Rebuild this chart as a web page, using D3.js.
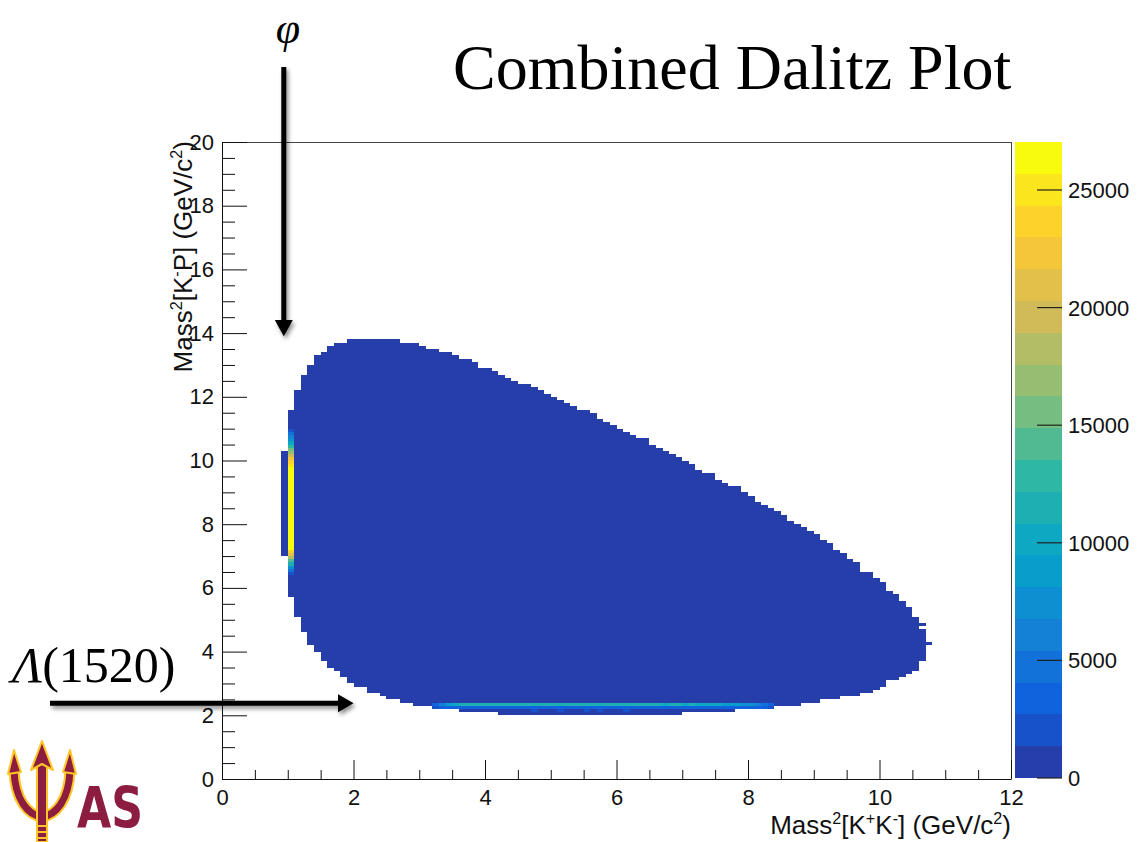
<!DOCTYPE html>
<html>
<head>
<meta charset="utf-8">
<script src="https://cdn.jsdelivr.net/npm/d3@7"></script>
<style>
  html, body { margin: 0; padding: 0; background: #fff; }
  svg { display: block; }
</style>
</head>
<body>
<svg id="chart" width="1139" height="842"></svg>
<script>
// ---------- data ----------
// Phase-space population: for each 0.1 GeV^2 column of M^2(K+K-), the lower edge
// of the column and the lowest / highest filled M^2(K-p) bin edges.
const colX = [
  0.9, 1.0, 1.1, 1.2, 1.3, 1.4, 1.5, 1.6, 1.7, 1.8,
  1.9, 2.0, 2.1, 2.2, 2.3, 2.4, 2.5, 2.6, 2.7, 2.8,
  2.9, 3.0, 3.1, 3.2, 3.3, 3.4, 3.5, 3.6, 3.7, 3.8,
  3.9, 4.0, 4.1, 4.2, 4.3, 4.4, 4.5, 4.6, 4.7, 4.8,
  4.9, 5.0, 5.1, 5.2, 5.3, 5.4, 5.5, 5.6, 5.7, 5.8,
  5.9, 6.0, 6.1, 6.2, 6.3, 6.4, 6.5, 6.6, 6.7, 6.8,
  6.9, 7.0, 7.1, 7.2, 7.3, 7.4, 7.5, 7.6, 7.7, 7.8,
  7.9, 8.0, 8.1, 8.2, 8.3, 8.4, 8.5, 8.6, 8.7, 8.8,
  8.9, 9.0, 9.1, 9.2, 9.3, 9.4, 9.5, 9.6, 9.7, 9.8,
  9.9, 10.0, 10.1, 10.2, 10.3, 10.4, 10.5, 10.6
];
const colTop = [
  10.3, 11.6, 12.2, 12.7, 13.0, 13.3, 13.4, 13.6, 13.7, 13.7,
  13.8, 13.8, 13.8, 13.8, 13.8, 13.8, 13.8, 13.8, 13.7, 13.7,
  13.7, 13.6, 13.5, 13.5, 13.4, 13.4, 13.3, 13.2, 13.2, 13.1,
  12.9, 12.9, 12.8, 12.7, 12.6, 12.5, 12.4, 12.4, 12.3, 12.2,
  12.1, 12.0, 11.9, 11.8, 11.7, 11.6, 11.6, 11.5, 11.3, 11.2,
  11.1, 11.0, 10.9, 10.8, 10.7, 10.7, 10.5, 10.4, 10.3, 10.2,
  10.1, 10.0, 9.9, 9.7, 9.6, 9.6, 9.4, 9.3, 9.2, 9.2,
  9.0, 8.9, 8.7, 8.6, 8.5, 8.4, 8.3, 8.1, 8.0, 7.9,
  7.8, 7.7, 7.5, 7.4, 7.2, 7.1, 6.9, 6.8, 6.5, 6.5,
  6.3, 6.2, 5.9, 5.8, 5.6, 5.4, 5.1, 4.7
];
const colBottom = [
  7.0, 5.7, 5.1, 4.6, 4.2, 4.0, 3.7, 3.5, 3.4, 3.2,
  3.0, 2.9, 2.9, 2.7, 2.7, 2.6, 2.5, 2.5, 2.4, 2.4,
  2.3, 2.3, 2.3, 2.2, 2.2, 2.2, 2.2, 2.1, 2.1, 2.1,
  2.1, 2.1, 2.1, 2.0, 2.0, 2.0, 2.0, 2.0, 2.0, 2.0,
  2.0, 2.0, 2.0, 2.0, 2.0, 2.0, 2.0, 2.0, 2.0, 2.0,
  2.0, 2.0, 2.0, 2.0, 2.0, 2.0, 2.0, 2.0, 2.0, 2.0,
  2.0, 2.1, 2.1, 2.1, 2.1, 2.1, 2.1, 2.1, 2.1, 2.2,
  2.2, 2.2, 2.2, 2.2, 2.2, 2.3, 2.3, 2.3, 2.3, 2.4,
  2.4, 2.4, 2.5, 2.5, 2.5, 2.6, 2.6, 2.6, 2.7, 2.7,
  2.8, 2.9, 3.1, 3.1, 3.2, 3.3, 3.4, 3.7
];
// typical entries per bin across the smooth phase space (lowest contour band)
const baseCount = 500;

// isolated bins at the far edge
const strayX = [10.6, 10.7];
const strayY = [4.8, 4.2];
const strayCounts = [400, 400];

// phi(1020) band: the single M^2(K+K-) column 1.0-1.1
const phiX = 1.0;
const phiY = [
  6.4, 6.5, 6.6, 6.7, 6.8, 6.9, 7.0, 7.1, 7.2, 7.3,
  7.4, 7.5, 7.6, 7.7, 7.8, 7.9, 8.0, 8.1, 8.2, 8.3,
  8.4, 8.5, 8.6, 8.7, 8.8, 8.9, 9.0, 9.1, 9.2, 9.3,
  9.4, 9.5, 9.6, 9.7, 9.8, 9.9, 10.0, 10.1, 10.2, 10.3,
  10.4, 10.5, 10.6, 10.7, 10.8, 10.9
];
const phiCounts = [
  2500, 4500, 7500, 11000, 14500, 18500, 21500, 24000, 26100, 26400,
  26600, 26800, 26900, 27040, 26950, 26800, 26700, 26900, 26850, 26600,
  26700, 26500, 26800, 26900, 26700, 26600, 26400, 26500, 26300, 26200,
  26100, 26000, 25900, 25800, 25200, 24000, 22500, 20000, 17500, 15000,
  12500, 10000, 8000, 6000, 4200, 2500
];

// Lambda(1520) band along M^2(K-p) ~ 2.2-2.4
const lambdaX = [
  3.2, 3.3, 3.4, 3.5, 3.6, 3.7, 3.8, 3.9, 4.0, 4.1,
  4.2, 4.3, 4.4, 4.5, 4.6, 4.7, 4.8, 4.9, 5.0, 5.1,
  5.2, 5.3, 5.4, 5.5, 5.6, 5.7, 5.8, 5.9, 6.0, 6.1,
  6.2, 6.3, 6.4, 6.5, 6.6, 6.7, 6.8, 6.9, 7.0, 7.1,
  7.2, 7.3, 7.4, 7.5, 7.6, 7.7, 7.8, 7.9, 8.0, 8.1,
  8.2, 8.3
];
const lambdaRowY = [2.3, 2.2];
const lambdaRow23 = [
  3500, 6000, 8500, 10200, 11000, 11300, 11100, 11500, 11200, 11600,
  11400, 11100, 11500, 11300, 11000, 11400, 11200, 11500, 11100, 11300,
  11400, 11000, 11200, 11500, 11100, 11300, 11200, 11000, 11400, 11100,
  11300, 10900, 11200, 11000, 11300, 10800, 11100, 10900, 10700, 11000,
  10600, 10400, 10200, 9500, 9000, 8700, 8400, 8000, 7200, 6000,
  4500, 3000
];
const lambdaRow22 = [
  2200, 3200, 3400, 3600, 3500, 3700, 3600, 3800, 3500, 3700,
  3600, 3900, 3500, 3700, 3600, 3800, 3500, 3600, 3700, 3900,
  3500, 3600, 3800, 3700, 3500, 3600, 3700, 3500, 3800, 3600,
  3500, 3700, 3600, 3500, 3700, 3400, 3600, 3500, 3400, 3600,
  3300, 3500, 3400, 3300, 3200, 3300, 3100, 3200, 3000, 2900,
  2800, 2200
];
// a few brighter bins just under the band
const spotX = [4.7, 5.1, 5.5, 5.7, 6.1];
const spotY = [2.1, 2.1, 2.1, 2.1, 2.1];
const spotCounts = [2000, 1900, 2100, 2000, 1900];

// axis ticks
const xMajor = [0, 2, 4, 6, 8, 10, 12];
const yMajor = [0, 2, 4, 6, 8, 10, 12, 14, 16, 18, 20];
const zTicks = [0, 5000, 10000, 15000, 20000, 25000];
const nContours = 20;
const binW = 0.1, binH = 0.1;

// ROOT "bird" palette stops
const birdStops = [0, 0.125, 0.25, 0.375, 0.5, 0.625, 0.75, 0.875, 1];
const birdColors = ["#352a87", "#0f5cdd", "#1481d6", "#06a4ca", "#2eb7a4",
                    "#87bf77", "#d1bb59", "#fec832", "#f9fb0e"];

[[colX, colTop], [colX, colBottom], [phiY, phiCounts],
 [lambdaX, lambdaRow23], [lambdaX, lambdaRow22]].forEach(([a, b]) => {
  if (a.length !== b.length) throw new Error("array length mismatch " + a.length + " vs " + b.length);
});

// ---------- scales ----------
const svg = d3.select("#chart");
const sansFont = "'Liberation Sans', Arial, Helvetica, sans-serif";
const serifFont = "'Liberation Serif', 'Times New Roman', Times, serif";

const x = d3.scaleLinear().domain([0, 12]).range([222, 1011]);
const y = d3.scaleLinear().domain([0, 20]).range([779, 142]);
const zMax = d3.max(phiCounts);
const z = d3.scaleLinear().domain([0, zMax]).range([778, 142]);
const palette = d3.scaleLinear().domain(birdStops).range(birdColors).interpolate(d3.interpolateRgb);
const levelOf = c => Math.min(nContours - 1, Math.floor(c / zMax * nContours));
const levelColor = i => palette((i + 0.99) / nContours);
const colorOf = c => levelColor(levelOf(c));

// ---------- histogram cells ----------
const cells = svg.append("g").attr("shape-rendering", "crispEdges");
function cell(x0, y0, x1, y1, fill) {
  const l = Math.round(x(x0)), r = Math.round(x(x1));
  const t = Math.round(y(y1)), b = Math.round(y(y0));
  cells.append("rect").attr("x", l).attr("y", t)
    .attr("width", r - l).attr("height", b - t).attr("fill", fill);
}
colX.forEach((cx, i) => cell(cx, colBottom[i], cx + binW, colTop[i], colorOf(baseCount)));
strayX.forEach((sx, i) => cell(sx, strayY[i], sx + binW, strayY[i] + binH, colorOf(strayCounts[i])));
phiY.forEach((py, i) => cell(phiX, py, phiX + binW, py + binH, colorOf(phiCounts[i])));
[lambdaRow23, lambdaRow22].forEach((row, r) => {
  row.forEach((c, i) => cell(lambdaX[i], lambdaRowY[r], lambdaX[i] + binW, lambdaRowY[r] + binH, colorOf(c)));
});
spotX.forEach((sx, i) => cell(sx, spotY[i], sx + binW, spotY[i] + binH, colorOf(spotCounts[i])));

// ---------- frame and axes ----------
svg.append("line").attr("x1", x(0)).attr("x2", x(12)).attr("y1", y(20) + 0.5).attr("y2", y(20) + 0.5)
  .attr("stroke", "#444").attr("stroke-width", 1);
svg.append("line").attr("x1", x(12) + 0.5).attr("x2", x(12) + 0.5).attr("y1", y(0)).attr("y2", y(20))
  .attr("stroke", "#444").attr("stroke-width", 1);

const xMinor = d3.range(0, 12.001, 0.5).filter(v => !xMajor.includes(v));
const yMinor = d3.range(0, 20.001, 0.5).filter(v => !yMajor.includes(v));

function styleAxis(g) {
  g.attr("font-family", sansFont).attr("font-size", 22);
  g.selectAll("line").attr("stroke", "#111");
  g.select(".domain").attr("stroke", "#111");
  g.selectAll("text").attr("fill", "#111");
}
const gx = svg.append("g").attr("transform", `translate(0,${y(0)})`)
  .call(d3.axisBottom(x).tickValues(xMajor).tickSize(-19).tickSizeOuter(0).tickPadding(10).tickFormat(d3.format("d")));
styleAxis(gx);
const gxm = svg.append("g").attr("transform", `translate(0,${y(0)})`)
  .call(d3.axisBottom(x).tickValues(xMinor).tickSize(-9).tickFormat(() => ""));
gxm.select(".domain").remove(); gxm.selectAll("line").attr("stroke", "#111");

const gy = svg.append("g").attr("transform", `translate(${x(0)},0)`)
  .call(d3.axisLeft(y).tickValues(yMajor).tickSize(-25).tickSizeOuter(0).tickPadding(8).tickFormat(d3.format("d")));
styleAxis(gy);
const gym = svg.append("g").attr("transform", `translate(${x(0)},0)`)
  .call(d3.axisLeft(y).tickValues(yMinor).tickSize(-13).tickFormat(() => ""));
gym.select(".domain").remove(); gym.selectAll("line").attr("stroke", "#111");

// axis titles with superscripts
function richText(sel, parts, size) {
  parts.forEach(p => {
    const t = sel.append("tspan").text(p.t);
    if (p.sup) t.attr("font-size", size * 0.62).attr("dy", -size * 0.38);
    else if (p.after) t.attr("dy", size * 0.38);
  });
}
const xTitle = svg.append("text").attr("x", x(12)).attr("y", 834)
  .attr("text-anchor", "end").attr("font-family", sansFont).attr("font-size", 26).attr("fill", "#111");
richText(xTitle, [
  { t: "Mass" }, { t: "2", sup: true }, { t: "[K", after: true }, { t: "+", sup: true },
  { t: "K", after: true }, { t: "-", sup: true }, { t: "] (GeV/c", after: true },
  { t: "2", sup: true }, { t: ")", after: true }
], 26);

const yTitle = svg.append("text").attr("transform", `translate(192,${y(20) - 1}) rotate(-90)`)
  .attr("text-anchor", "end").attr("font-family", sansFont).attr("font-size", 26).attr("fill", "#111");
richText(yTitle, [
  { t: "Mass" }, { t: "2", sup: true }, { t: "[K", after: true }, { t: "-", sup: true },
  { t: "P] (GeV/c", after: true }, { t: "2", sup: true }, { t: ")", after: true }
], 26);

// ---------- colour scale ----------
const bar = svg.append("g").attr("shape-rendering", "crispEdges");
d3.range(nContours).forEach(i => {
  const t = Math.round(z((i + 1) * zMax / nContours)), b = Math.round(z(i * zMax / nContours));
  bar.append("rect").attr("x", 1015).attr("y", t).attr("width", 47).attr("height", b - t)
    .attr("fill", levelColor(i));
});
const zAxis = svg.append("g");
zTicks.forEach(v => {
  zAxis.append("line").attr("x1", 1037).attr("x2", 1062).attr("y1", z(v)).attr("y2", z(v))
    .attr("stroke", "#222").attr("stroke-width", 1.2);
  zAxis.append("text").attr("x", 1068).attr("y", z(v)).attr("dy", "0.36em")
    .attr("font-family", sansFont).attr("font-size", 22).attr("fill", "#111").text(v);
});

// ---------- title and annotations ----------
svg.append("text").attr("x", 453).attr("y", 89)
  .attr("font-family", serifFont).attr("font-size", 64).attr("fill", "#000")
  .text("Combined Dalitz Plot");

const defs = svg.append("defs");
const shadow = defs.append("filter").attr("id", "arrowShadow")
  .attr("x", "-20%").attr("y", "-20%").attr("width", "140%").attr("height", "140%");
shadow.append("feDropShadow").attr("dx", 2).attr("dy", 3).attr("stdDeviation", 2)
  .attr("flood-color", "#000").attr("flood-opacity", 0.45);

const arrows = svg.append("g").attr("filter", "url(#arrowShadow)");
// phi arrow (vertical, pointing down at the phi band)
const phiAX = x(0.94);
arrows.append("line").attr("x1", phiAX).attr("x2", phiAX).attr("y1", 67).attr("y2", 324)
  .attr("stroke", "#000").attr("stroke-width", 5);
arrows.append("path")
  .attr("d", `M${phiAX - 9},320 L${phiAX + 9},320 L${phiAX},${y(13.9)} Z`).attr("fill", "#000");
// Lambda(1520) arrow (horizontal, pointing right at the band)
const lamAY = y(2.38);
arrows.append("line").attr("x1", 50).attr("x2", 342).attr("y1", lamAY).attr("y2", lamAY)
  .attr("stroke", "#000").attr("stroke-width", 5);
arrows.append("path")
  .attr("d", `M338,${lamAY - 9} L338,${lamAY + 9} L${x(2.0)},${lamAY} Z`).attr("fill", "#000");

svg.append("text").attr("x", 288).attr("y", 43).attr("text-anchor", "middle")
  .attr("font-family", serifFont).attr("font-style", "italic").attr("font-size", 44)
  .attr("fill", "#000").text("φ");

const lamLabel = svg.append("text").attr("x", 12).attr("y", 682)
  .attr("font-family", serifFont).attr("font-size", 50).attr("fill", "#000");
lamLabel.append("tspan").attr("font-style", "italic").text("Λ");
lamLabel.append("tspan").text("(1520)");

// ---------- trident logo ----------
const maroon = "#8c1d40", gold = "#ffc627";
const logo = svg.append("g");
const forkPath = "M14,770 C15,800 28,815 42,817 C56,815 69,800 70,770";
logo.append("path").attr("d", forkPath).attr("fill", "none").attr("stroke", gold).attr("stroke-width", 11);
logo.append("path").attr("d", forkPath).attr("fill", "none").attr("stroke", maroon).attr("stroke-width", 7);
// side prong points
[[14, 1], [70, -1]].forEach(([px, s]) => {
  const pts = `${px},750 ${px - 6 * s},774 ${px + 7 * s},772`;
  logo.append("polygon").attr("points", pts).attr("fill", maroon).attr("stroke", gold)
    .attr("stroke-width", 2).attr("stroke-linejoin", "round");
});
// centre prong
logo.append("rect").attr("x", 37).attr("y", 762).attr("width", 10).attr("height", 80)
  .attr("fill", maroon).attr("stroke", gold).attr("stroke-width", 2);
logo.append("polygon").attr("points", "42,741 31,770 42,764 53,770")
  .attr("fill", maroon).attr("stroke", gold).attr("stroke-width", 2).attr("stroke-linejoin", "round");
// handle bands
[826, 832, 838].forEach(v => logo.append("line").attr("x1", 37).attr("x2", 47).attr("y1", v).attr("y2", v)
  .attr("stroke", gold).attr("stroke-width", 2));
// tall, condensed lettering
logo.append("text").attr("transform", "translate(77,828) scale(1,1.2)")
  .attr("textLength", 66).attr("lengthAdjust", "spacingAndGlyphs")
  .attr("font-family", "'DejaVu Sans Condensed', 'DejaVu Sans', sans-serif").attr("font-weight", "bold")
  .attr("font-size", 48).attr("fill", maroon).text("AS");
</script>
</body>
</html>
